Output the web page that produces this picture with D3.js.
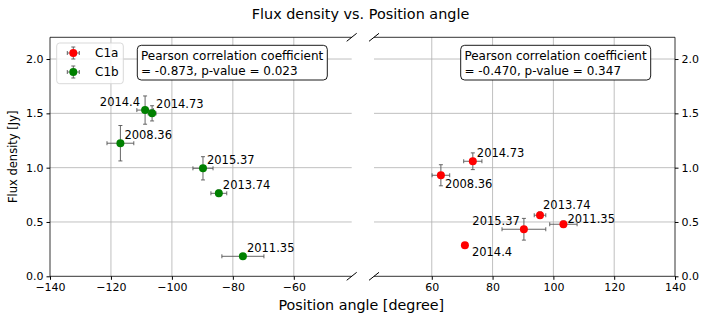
<!DOCTYPE html>
<html>
<head>
<meta charset="utf-8">
<script src="https://cdn.jsdelivr.net/npm/d3@7"></script>
<style>
  body { margin: 0; background: #fff; }
  svg, svg text { font-family: "DejaVu Sans", sans-serif; }
  .tick text { font-size: 11px; fill: #000; font-family: "DejaVu Sans", sans-serif; }
  .grid line { stroke: #b0b0b0; stroke-width: 0.8; }
</style>
</head>
<body>
<svg id="chart" width="708" height="319"></svg>
<script>
// C1b (green, negative position angles)
let c1bEpoch = ["2014.4", "2014.73", "2008.36", "2015.37", "2013.74", "2011.35"];
let c1bAngle = [-108.8, -106.5, -116.9, -89.8, -84.6, -76.7];
let c1bAngleErr = [2.7, 1.3, 4.4, 3.3, 2.6, 6.9];
let c1bFlux = [1.53, 1.50, 1.225, 0.994, 0.764, 0.184];
let c1bFluxErr = [0.13, 0.07, 0.163, 0.107, 0.03, 0.01];

// C1a (red, positive position angles)
let c1aEpoch = ["2014.73", "2008.36", "2013.74", "2015.37", "2011.35", "2014.4"];
let c1aAngle = [73.5, 63.0, 95.6, 90.3, 103.3, 70.9];
let c1aAngleErr = [3.0, 2.9, 1.9, 7.2, 4.5, 0];
let c1aFlux = [1.059, 0.930, 0.562, 0.433, 0.479, 0.285];
let c1aFluxErr = [0.077, 0.097, 0.03, 0.1, 0.03, 0];

let leftXTicks = [-140, -120, -100, -80, -60];
let rightXTicks = [60, 80, 100, 120, 140];
let yTicks = [0, 0.5, 1.0, 1.5, 2.0];

let pearsonLeft = ["Pearson correlation coefficient", "= -0.873, p-value = 0.023"];
let pearsonRight = ["Pearson correlation coefficient", "= -0.470, p-value = 0.347"];

// label offsets (dx, dy, anchor) for annotations
let leftOffsets = {
  "2014.4": [-5, -4, "end"], "2014.73": [4, -5, "start"], "2008.36": [4, -4, "start"],
  "2015.37": [4, -4, "start"], "2013.74": [4, -4, "start"], "2011.35": [4, -4.6, "start"]
};
let rightOffsets = {
  "2014.73": [4, -4, "start"], "2008.36": [4, 13, "start"], "2013.74": [3, -6, "start"],
  "2015.37": [-4, -4, "end"], "2011.35": [4, -1, "start"], "2014.4": [7, 11, "start"]
};

let svg = d3.select("#chart");
let plotTop = 37.3, plotBottom = 276.3;

let yScale = d3.scaleLinear().domain([0, 2.2]).range([plotBottom, plotTop]);
let xLeft = d3.scaleLinear().domain([-140, -41]).range([50, 351.7]);
let xRight = d3.scaleLinear().domain([41, 140]).range([374, 675]);

function drawPanel(xScale, ticks, side, ex, ey, exErr, eyErr, epochs, color, offsets, pearson, boxX) {
  let x0 = xScale.range()[0], x1 = xScale.range()[1];
  let g = svg.append("g");

  // grid
  let grid = g.append("g").attr("class", "grid");
  grid.selectAll(".gx").data(ticks.filter(t => xScale(t) > x0 + 1 && xScale(t) < x1 - 1)).enter()
    .append("line")
    .attr("x1", d => xScale(d)).attr("x2", d => xScale(d))
    .attr("y1", plotTop).attr("y2", plotBottom);
  grid.selectAll(".gy").data(yTicks.filter(t => t > 0)).enter()
    .append("line")
    .attr("x1", x0).attr("x2", x1)
    .attr("y1", d => yScale(d)).attr("y2", d => yScale(d));

  // axes
  let bottomAxis = d3.axisBottom(xScale).tickValues(ticks).tickSize(3.5).tickPadding(3)
    .tickFormat(d => d < 0 ? "\u2212" + Math.abs(d) : d);
  let ax = g.append("g").attr("transform", "translate(0," + plotBottom + ")").call(bottomAxis);
  ax.select(".domain").remove();

  let yAxis = side === "left" ? d3.axisLeft(yScale) : d3.axisRight(yScale);
  yAxis.tickValues(yTicks).tickSize(3.5).tickPadding(3).tickFormat(d3.format(".1f"));
  let ay = g.append("g").attr("transform", "translate(" + (side === "left" ? x0 : x1) + ",0)").call(yAxis);
  ay.select(".domain").remove();

  // spines
  g.append("line").attr("x1", x0).attr("x2", x1).attr("y1", plotBottom).attr("y2", plotBottom)
    .attr("stroke", "#000").attr("stroke-width", 0.8);
  g.append("line").attr("x1", x0).attr("x2", x1).attr("y1", plotTop).attr("y2", plotTop)
    .attr("stroke", "#000").attr("stroke-width", 0.8);
  let sx = side === "left" ? x0 : x1;
  g.append("line").attr("x1", sx).attr("x2", sx).attr("y1", plotTop).attr("y2", plotBottom)
    .attr("stroke", "#000").attr("stroke-width", 0.8);

  // break marks
  let bx = side === "left" ? x1 : x0;
  [plotTop, plotBottom].forEach(yy => {
    g.append("line").attr("x1", bx - 5).attr("x2", bx + 5)
      .attr("y1", yy + 4).attr("y2", yy - 4)
      .attr("stroke", "#000").attr("stroke-width", 1);
  });

  let data = ex.map((v, i) => ({ x: v, y: ey[i], xe: exErr[i], ye: eyErr[i], label: epochs[i] }));

  // error bars
  let eb = g.append("g").attr("stroke", "#555").attr("stroke-width", 0.9);
  data.forEach(d => {
    let cx = xScale(d.x), cy = yScale(d.y);
    if (d.xe > 0) {
      let xa = xScale(d.x - d.xe), xb = xScale(d.x + d.xe);
      eb.append("line").attr("x1", xa).attr("x2", xb).attr("y1", cy).attr("y2", cy);
      eb.append("line").attr("x1", xa).attr("x2", xa).attr("y1", cy - 2).attr("y2", cy + 2);
      eb.append("line").attr("x1", xb).attr("x2", xb).attr("y1", cy - 2).attr("y2", cy + 2);
    }
    if (d.ye > 0) {
      let ya = yScale(d.y - d.ye), yb = yScale(d.y + d.ye);
      eb.append("line").attr("x1", cx).attr("x2", cx).attr("y1", ya).attr("y2", yb);
      eb.append("line").attr("x1", cx - 2).attr("x2", cx + 2).attr("y1", ya).attr("y2", ya);
      eb.append("line").attr("x1", cx - 2).attr("x2", cx + 2).attr("y1", yb).attr("y2", yb);
    }
  });

  g.selectAll(".pt").data(data).enter()
    .append("circle")
    .attr("cx", d => xScale(d.x)).attr("cy", d => yScale(d.y))
    .attr("r", 4).attr("fill", color);

  g.selectAll(".lbl").data(data).enter()
    .append("text")
    .attr("x", d => xScale(d.x) + offsets[d.label][0])
    .attr("y", d => yScale(d.y) + offsets[d.label][1])
    .attr("text-anchor", d => offsets[d.label][2])
    .style("font-size", "11.5px")
    .text(d => d.label);

  // pearson box
  let box = g.append("g");
  box.append("rect").attr("x", boxX).attr("y", 45.3).attr("width", 190).attr("height", 34.7)
    .attr("rx", 4).attr("fill", "#fff").attr("stroke", "#000").attr("stroke-width", 0.9);
  pearson.forEach((t, i) => {
    box.append("text").attr("x", boxX + 3.7).attr("y", 60 + i * 15)
      .style("font-size", "12px").text(t);
  });
}

drawPanel(xLeft, leftXTicks, "left", c1bAngle, c1bFlux, c1bAngleErr, c1bFluxErr, c1bEpoch,
  "green", leftOffsets, pearsonLeft, 137.3);
drawPanel(xRight, rightXTicks, "right", c1aAngle, c1aFlux, c1aAngleErr, c1aFluxErr, c1aEpoch,
  "red", rightOffsets, pearsonRight, 460.7);

// legend
let legendItems = [["C1a", "red"], ["C1b", "green"]];
let lg = svg.append("g");
lg.append("rect").attr("x", 56.7).attr("y", 43).attr("width", 66.6).attr("height", 40.7)
  .attr("rx", 3).attr("fill", "#fff").attr("fill-opacity", 0.8)
  .attr("stroke", "#d5d5d5").attr("stroke-width", 0.9);
legendItems.forEach((it, i) => {
  let yy = 53 + i * 19;
  let lx = 73.3;
  let e = lg.append("g").attr("stroke", "#555").attr("stroke-width", 0.9);
  e.append("line").attr("x1", lx - 6).attr("x2", lx + 6).attr("y1", yy).attr("y2", yy);
  e.append("line").attr("x1", lx - 6).attr("x2", lx - 6).attr("y1", yy - 2).attr("y2", yy + 2);
  e.append("line").attr("x1", lx + 6).attr("x2", lx + 6).attr("y1", yy - 2).attr("y2", yy + 2);
  e.append("line").attr("x1", lx).attr("x2", lx).attr("y1", yy - 6).attr("y2", yy + 6);
  e.append("line").attr("x1", lx - 2).attr("x2", lx + 2).attr("y1", yy - 6).attr("y2", yy - 6);
  e.append("line").attr("x1", lx - 2).attr("x2", lx + 2).attr("y1", yy + 6).attr("y2", yy + 6);
  lg.append("circle").attr("cx", lx).attr("cy", yy).attr("r", 4).attr("fill", it[1]);
  lg.append("text").attr("x", 95).attr("y", yy + 4.3).style("font-size", "12px").text(it[0]);
});

// titles
svg.append("text").attr("x", 360.5).attr("y", 19).attr("text-anchor", "middle")
  .style("font-size", "14.4px").text("Flux density vs. Position angle");
svg.append("text").attr("x", 361.3).attr("y", 310).attr("text-anchor", "middle")
  .style("font-size", "14.3px").text("Position angle [degree]");
svg.append("text").attr("transform", "translate(17," + ((plotTop + plotBottom) / 2) + ") rotate(-90)")
  .attr("text-anchor", "middle").style("font-size", "11.5px").text("Flux density [Jy]");
</script>
</body>
</html>
